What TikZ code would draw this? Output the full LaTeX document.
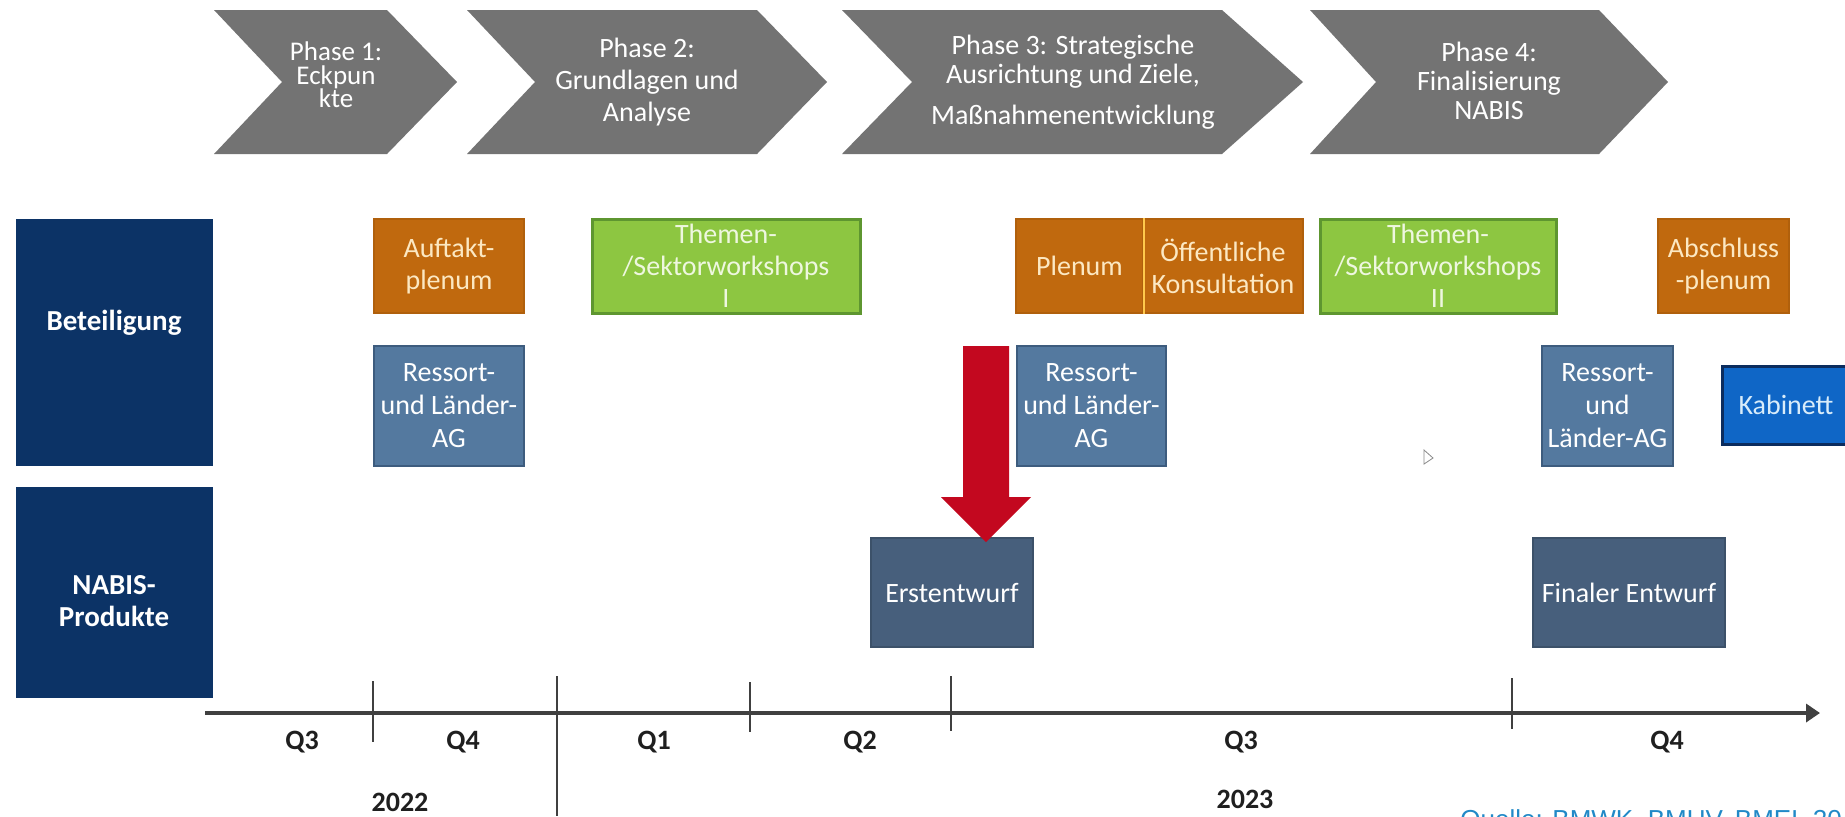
\documentclass[tikz,border=0pt]{standalone}
\usepackage{fontspec}
\setmainfont{Carlito}
\newfontfamily\quellefont{Liberation Sans}
\usetikzlibrary{arrows.meta}
\newcommand\mytightlines{\lineskiplimit=-20pt\relax}
\definecolor{chev}{HTML}{737373}
\definecolor{navy}{HTML}{0C3366}
\definecolor{orng}{HTML}{C0690E}
\definecolor{orngb}{HTML}{B0600C}
\definecolor{orngtxt}{HTML}{FCE8C2}
\definecolor{grn}{HTML}{8DC641}
\definecolor{grnb}{HTML}{5E9630}
\definecolor{grntxt}{HTML}{EEF7DF}
\definecolor{ressort}{HTML}{54799F}
\definecolor{ressortb}{HTML}{3D5C7E}
\definecolor{entw}{HTML}{475F7C}
\definecolor{kab}{HTML}{0F66C6}
\definecolor{kabb}{HTML}{0B2C5E}
\definecolor{kabtxt}{HTML}{D8ECFA}
\definecolor{redarrow}{HTML}{C3081F}
\definecolor{axisc}{HTML}{404040}
\definecolor{quelle}{HTML}{2189C7}
\begin{document}
\begin{tikzpicture}[x=0.5pt,y=-0.5pt,
  txt/.style={font=\fontsize{14}{16}\selectfont, align=center, inner sep=0pt},
  phasetxt/.style={txt, text=white},
  box/.style={txt, draw, line width=1pt},
  orangebox/.style={box, fill=orng, draw=orngb, text=orngtxt, minimum height=47pt},
  greenbox/.style={box, fill=grn, draw=grnb, line width=1.5pt, text=grntxt, minimum height=47pt},
  ressortbox/.style={box, fill=ressort, draw=ressortb, text=white, minimum height=60pt, font=\fontsize{14}{16.5}\selectfont},
  entwbox/.style={box, fill=entw, draw=entw!85!black, text=white, minimum height=54.5pt},
  kabbox/.style={box, fill=kab, draw=kabb, line width=1.5pt, text=kabtxt, minimum height=39pt},
  lblbox/.style={fill=navy, inner sep=0pt, minimum width=98.5pt},
  lbltxt/.style={txt, text=white, font=\fontsize{14.5}{16}\selectfont\bfseries},
  qlbl/.style={txt, text=black!88, font=\fontsize{14}{16}\selectfont\bfseries},
  chevron/.style={fill=chev},
  tickline/.style={draw=black!75, line width=0.7pt},
  axisline/.style={draw=axisc, line width=2pt, -{Triangle[length=7pt,width=9pt]}}
]
\useasboundingbox (0,0) rectangle (1845,816);
\clip (0,0) rectangle (1845,816);
\fill[white] (0,0) rectangle (1845,816);

% phase chevrons
\fill[chevron] (214,10) -- (387,10) -- (457,82) -- (387,154) -- (214,154) -- (282,82) -- cycle;
\fill[chevron] (467,10) -- (757,10) -- (827,82) -- (757,154) -- (467,154) -- (535,82) -- cycle;
\fill[chevron] (842,10) -- (1222,10) -- (1303,82) -- (1222,154) -- (842,154) -- (912,82) -- cycle;
\fill[chevron] (1310,10) -- (1599,10) -- (1668,82) -- (1599,154) -- (1310,154) -- (1376,82) -- cycle;
\node[phasetxt, font={\fontsize{13.5}{11.8}\selectfont\mytightlines}] (p1) at (336,75) {Phase 1:\\Eckpun\\kte};
\node[phasetxt] (p2) at (647,82) {Phase 2:\\Grundlagen und\\Analyse};
\node[phasetxt, font=\fontsize{14}{14.5}\selectfont] (p3) at (1073,82) {Phase 3: Strategische\\Ausrichtung und Ziele,\\[6pt]Maßnahmenentwicklung};
\node[phasetxt, font=\fontsize{14}{14.5}\selectfont] (p4) at (1489,81) {Phase 4:\\Finalisierung\\NABIS};

% row labels
\node[lblbox, minimum height=123.5pt] (beteil) at (114.5,342.5) {};
\node[lbltxt] (beteiltxt) at (114,323) {Beteiligung};
\node[lblbox, minimum height=105.5pt] (nabis) at (114.5,592.5) {};
\node[lbltxt] (nabistxt) at (114,601) {NABIS-\\Produkte};

% Beteiligung row 1
\node[orangebox, minimum width=75pt] (auftakt) at (449,266) {Auftakt-\\plenum};
\node[greenbox, minimum width=134pt] (themen1) at (726,266) {Themen-\\/Sektorworkshops\\I};
\node[orangebox, minimum width=63.5pt] (plenum) at (1079.5,266) {Plenum};
\node[orangebox, minimum width=80pt] (konsult) at (1223,266) {Öffentliche\\Konsultation};
\draw[draw=orange!60!yellow!70!white, line width=0.8pt] (plenum.north east) -- (plenum.south east);
\node[greenbox, minimum width=118pt] (themen2) at (1438,266) {Themen-\\/Sektorworkshops\\II};
\node[orangebox, minimum width=65.5pt] (abschluss) at (1723.5,266) {Abschluss\\-plenum};

% Beteiligung row 2
\node[ressortbox, minimum width=75pt] (ressort1) at (449,406) {Ressort-\\und Länder-\\AG};
\node[ressortbox, minimum width=74.5pt] (ressort2) at (1091.5,406) {Ressort-\\und Länder-\\AG};
\node[ressortbox, minimum width=65.5pt] (ressort3) at (1607.5,406) {Ressort-\\und\\Länder-AG};
\node[kabbox, minimum width=64pt] (kabinett) at (1786,405) {Kabinett};

% NABIS products
\node[entwbox, minimum width=81pt] (erst) at (952,592.5) {Erstentwurf};
\node[entwbox, minimum width=96pt] (final) at (1629,592.5) {Finaler Entwurf};

% red block arrow
\fill[redarrow] (963,346) -- (1009,346) -- (1009,497) -- (1031,497) -- (986,542) -- (941,497) -- (963,497) -- cycle;

% cursor artefact
\draw[black!45, line width=0.4pt, fill=white] (1424,450) -- (1424,464) -- (1433,458) -- cycle;

% time axis
\coordinate (axstart) at (205,713);
\coordinate (axend) at (1820,713);
\draw[axisline] (axstart) -- (axend);
\draw[tickline] (373,681) -- (373,742);
\draw[tickline] (557,676) -- (557,816);
\draw[tickline] (750,682) -- (750,732);
\draw[tickline] (951,676) -- (951,731);
\draw[tickline] (1512,678) -- (1512,729);

\node[qlbl] (q3a) at (302,742) {Q3};
\node[qlbl] (q4a) at (463,742) {Q4};
\node[qlbl] (q1b) at (654,742) {Q1};
\node[qlbl] (q2b) at (860,742) {Q2};
\node[qlbl] (q3b) at (1241,742) {Q3};
\node[qlbl] (q4b) at (1667,742) {Q4};
\node[qlbl] (y2022) at (400,802) {2022};
\node[qlbl] (y2023) at (1245,799) {2023};

\node[anchor=base west, inner sep=0pt, text=quelle, font=\quellefont\fontsize{13}{15}\selectfont] (quelle) at (1460,828) {Quelle: BMWK, BMUV, BMEL 20};
\end{tikzpicture}
\end{document}
